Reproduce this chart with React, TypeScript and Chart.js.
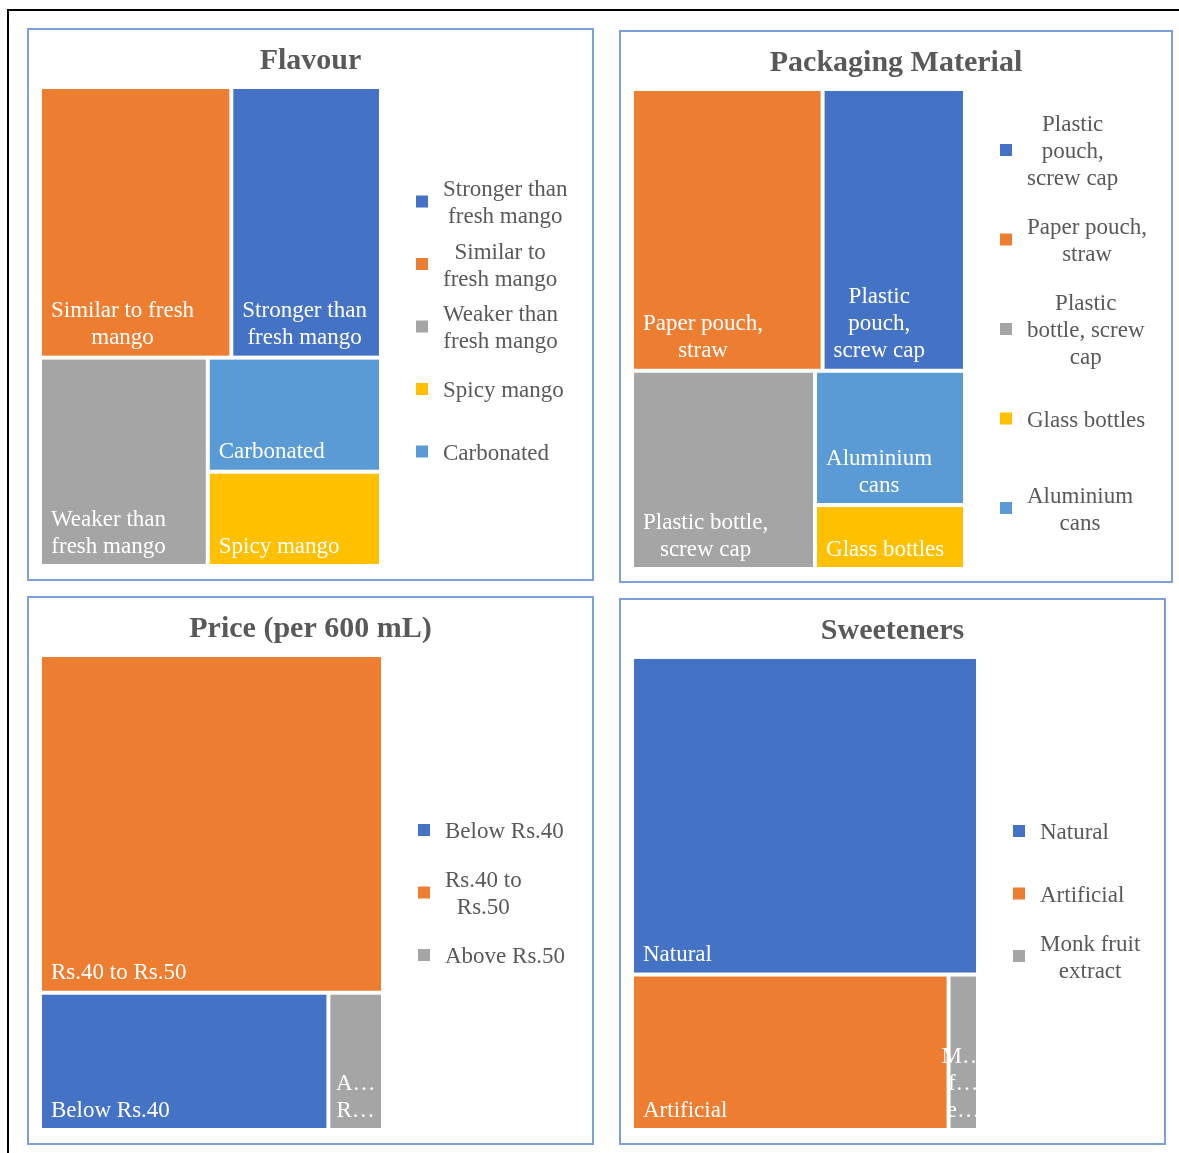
import React, { useEffect, useRef } from "react";
import { Chart, registerables } from "chart.js";

Chart.register(...registerables);

// ---------------- DATA ----------------
const BLUE = "#4472C4";
const ORANGE = "#ED7D31";
const GRAY = "#A5A5A5";
const YELLOW = "#FFC000";
const LBLUE = "#5B9BD5";

const flavourCategories = [
  "Stronger than fresh mango",
  "Similar to fresh mango",
  "Weaker than fresh mango",
  "Spicy mango",
  "Carbonated",
];
const flavourValues = [24.8, 31.7, 21.4, 10.0, 12.1];
const flavourColors = [BLUE, ORANGE, GRAY, YELLOW, LBLUE];

const packagingCategories = [
  "Plastic pouch, screw cap",
  "Paper pouch, straw",
  "Plastic bottle, screw cap",
  "Glass bottles",
  "Aluminium cans",
];
const packagingValues = [25.1, 33.6, 22.7, 6.0, 12.6];
const packagingColors = [BLUE, ORANGE, GRAY, YELLOW, LBLUE];

const priceCategories = ["Below Rs.40", "Rs.40 to Rs.50", "Above Rs.50"];
const priceValues = [24.3, 71.1, 4.6];
const priceColors = [BLUE, ORANGE, GRAY];

const sweetenerCategories = ["Natural", "Artificial", "Monk fruit extract"];
const sweetenerValues = [67.2, 30.1, 2.8];
const sweetenerColors = [BLUE, ORANGE, GRAY];

// ---------------- STYLE ----------------
const SERIF = '"Liberation Serif", "Times New Roman", serif';
const TEXT_GRAY = "#595959";
const LABEL_FONT = `23px ${SERIF}`;
const TITLE_FONT = `bold 30px ${SERIF}`;
const LINE_H = 27;

type Spec = {
  title: string;
  categories: string[];
  values: number[];
  colors: string[];
};

const SPECS: Spec[] = [
  { title: "Flavour", categories: flavourCategories, values: flavourValues, colors: flavourColors },
  { title: "Packaging Material", categories: packagingCategories, values: packagingValues, colors: packagingColors },
  { title: "Price (per 600 mL)", categories: priceCategories, values: priceValues, colors: priceColors },
  { title: "Sweeteners", categories: sweetenerCategories, values: sweetenerValues, colors: sweetenerColors },
];

const PANELS = [
  { left: 27, top: 28, w: 567, h: 553, rightPad: 211, bottomPad: 13, legendWrap: 126 },
  { left: 619, top: 30, w: 554, h: 553, rightPad: 206, bottomPad: 12, legendWrap: 120.7 },
  { left: 27, top: 596, w: 567, h: 549, rightPad: 209, bottomPad: 13, legendWrap: 126 },
  { left: 619, top: 598, w: 547, h: 547, rightPad: 186, bottomPad: 13, legendWrap: 126 },
];
type Panel = (typeof PANELS)[number];

// ---------------- LAYOUT (squarified treemap) ----------------
type Rect = { idx: number; x0: number; y0: number; x1: number; y1: number };

function squarify(values: number[], W: number, H: number): Rect[] {
  const total = values.reduce((a, b) => a + b, 0);
  const items = values
    .map((v, i) => ({ i, a: (v / total) * W * H }))
    .sort((p, q) => q.a - p.a);
  const out: Rect[] = [];
  let x = 0, y = 0, w = W, h = H;
  let k = 0;
  const worst = (row: number[], L: number) => {
    const s = row.reduce((a, b) => a + b, 0);
    const mx = Math.max(...row), mn = Math.min(...row);
    return Math.max((L * L * mx) / (s * s), (s * s) / (L * L * mn));
  };
  while (k < items.length) {
    const L = Math.min(w, h);
    const row = [items[k].a];
    let j = k + 1;
    while (j < items.length) {
      const next = [...row, items[j].a];
      if (worst(next, L) <= worst(row, L)) {
        row.push(items[j].a);
        j++;
      } else break;
    }
    const s = row.reduce((a, b) => a + b, 0);
    if (w >= h) {
      const cw = s / h;
      let cy = y;
      for (let m = k; m < j; m++) {
        const ch = items[m].a / cw;
        out.push({ idx: items[m].i, x0: x, y0: cy, x1: x + cw, y1: cy + ch });
        cy += ch;
      }
      x += cw;
      w -= cw;
    } else {
      const rh = s / w;
      let cx = x;
      for (let m = k; m < j; m++) {
        const rw = items[m].a / rh;
        out.push({ idx: items[m].i, x0: cx, y0: y, x1: cx + rw, y1: y + rh });
        cx += rw;
      }
      y += rh;
      h -= rh;
    }
    k = j;
  }
  return out.map((r) => ({ idx: r.idx, x0: r.x0 / W, x1: r.x1 / W, y0: r.y0 / H, y1: r.y1 / H }));
}

function truncate(ctx: CanvasRenderingContext2D, s: string, maxW: number) {
  for (let n = s.length - 1; n >= 1; n--) {
    const t = s.slice(0, n) + "\u2026";
    if (ctx.measureText(t).width <= maxW) return t;
  }
  return s[0] + "\u2026";
}

function wrap(ctx: CanvasRenderingContext2D, text: string, maxW: number, trunc: boolean) {
  const words = text.split(" ");
  const lines: string[] = [];
  let cur = "";
  for (const wd of words) {
    const t = cur ? cur + " " + wd : wd;
    if (!cur || ctx.measureText(t).width <= maxW) cur = t;
    else {
      lines.push(cur);
      cur = wd;
    }
  }
  if (cur) lines.push(cur);
  if (!trunc) return lines;
  return lines.map((l) => (ctx.measureText(l).width <= maxW ? l : truncate(ctx, l, maxW)));
}

function makePlugin(panel: Panel) {
  return {
    id: "treemapCells",
    afterDatasetsDraw(chart: any) {
      const ctx: CanvasRenderingContext2D = chart.ctx;
      const ds = chart.data.datasets[0];
      const values: number[] = ds.treeValues;
      const colors: string[] = ds.backgroundColor;
      const labels: string[] = chart.data.labels;
      const area = chart.chartArea;
      const xs = chart.scales.x;
      const ys = chart.scales.y;
      const rects = squarify(values, area.right - area.left, area.bottom - area.top);
      const gap = 2;
      const pad = 9;

      ctx.save();
      // title
      ctx.font = TITLE_FONT;
      ctx.fillStyle = TEXT_GRAY;
      ctx.textAlign = "center";
      ctx.textBaseline = "alphabetic";
      ctx.fillText(ds.label, chart.width / 2, 39);

      ctx.font = LABEL_FONT;
      for (const r of rects) {
        const x0 = xs.getPixelForValue(r.x0) + gap;
        const x1 = xs.getPixelForValue(r.x1) - gap;
        const y0 = ys.getPixelForValue(r.y0) + gap;
        const y1 = ys.getPixelForValue(r.y1) - gap;
        ctx.fillStyle = colors[r.idx];
        ctx.fillRect(x0, y0, x1 - x0, y1 - y0);

        const cw = x1 - x0;
        const lines = wrap(ctx, labels[r.idx], cw - 2 * pad, true);
        const bw = Math.max(...lines.map((l) => ctx.measureText(l).width));
        const left = bw <= cw - 2 * pad ? x0 + pad : x0 + (cw - bw) / 2;
        ctx.fillStyle = "#FFFFFF";
        ctx.textAlign = "center";
        const lastBase = y1 - 11.5;
        lines.forEach((l, i) => {
          ctx.fillText(l, left + bw / 2, lastBase - (lines.length - 1 - i) * LINE_H);
        });
      }

      // legend
      const legendLines = labels.map((l) => wrap(ctx, l, panel.legendWrap, false));
      const maxLines = Math.max(...legendLines.map((l) => l.length));
      const slot = maxLines * LINE_H + 8.5;
      const cy = (area.top + area.bottom) / 2;
      const start = cy - (slot * labels.length) / 2;
      const sqX = area.right + 35;
      const sq = 12;
      legendLines.forEach((lines, i) => {
        const c = start + slot * (i + 0.5);
        ctx.fillStyle = colors[i];
        ctx.fillRect(sqX, c - sq / 2, sq, sq);
        const bw = Math.max(...lines.map((l) => ctx.measureText(l).width));
        const bx = sqX + 27;
        ctx.fillStyle = TEXT_GRAY;
        ctx.textAlign = "center";
        lines.forEach((l, k) => {
          const base = c - ((lines.length - 1) * LINE_H) / 2 + k * LINE_H + 8;
          ctx.fillText(l, bx + bw / 2, base);
        });
      });
      ctx.restore();
    },
  };
}

function makeConfig(spec: Spec, panel: Panel): any {
  return {
    type: "scatter",
    data: {
      labels: spec.categories,
      datasets: [
        {
          label: spec.title,
          data: [],
          treeValues: spec.values,
          backgroundColor: spec.colors,
          pointRadius: 0,
        },
      ],
    },
    options: {
      animation: false,
      responsive: false,
      devicePixelRatio: 1,
      events: [],
      layout: { padding: { left: 11, right: panel.rightPad, top: 57, bottom: panel.bottomPad } },
      plugins: {
        legend: { display: false },
        tooltip: { enabled: false },
        title: { display: false },
      },
      scales: {
        x: { type: "linear", min: 0, max: 1, display: false },
        y: { type: "linear", min: 0, max: 1, reverse: true, display: false },
      },
    },
    plugins: [makePlugin(panel)],
  };
}

function TreemapPanel({ spec, panel }: { spec: Spec; panel: Panel }) {
  const ref = useRef<HTMLCanvasElement>(null);
  useEffect(() => {
    const chart = new Chart(ref.current as HTMLCanvasElement, makeConfig(spec, panel));
    return () => chart.destroy();
  }, []);
  const cw = panel.w - 4;
  const ch = panel.h - 4;
  return (
    <div
      style={{
        position: "absolute",
        left: panel.left,
        top: panel.top,
        width: panel.w,
        height: panel.h,
        boxSizing: "border-box",
        border: "2px solid #7DA0DC",
        background: "#FFFFFF",
      }}
    >
      <canvas ref={ref} width={cw} height={ch} style={{ display: "block", width: cw, height: ch }} />
    </div>
  );
}

export default function App() {
  return (
    <div style={{ position: "absolute", left: 0, top: 0, width: 1179, height: 1153, background: "#FFFFFF", overflow: "hidden" }}>
      <div
        style={{
          position: "absolute",
          left: 7,
          top: 9,
          width: 1172,
          height: 1144,
          boxSizing: "border-box",
          borderTop: "2px solid #000000",
          borderLeft: "2px solid #000000",
        }}
      />
      {SPECS.map((s, i) => (
        <TreemapPanel key={s.title} spec={s} panel={PANELS[i]} />
      ))}
    </div>
  );
}
